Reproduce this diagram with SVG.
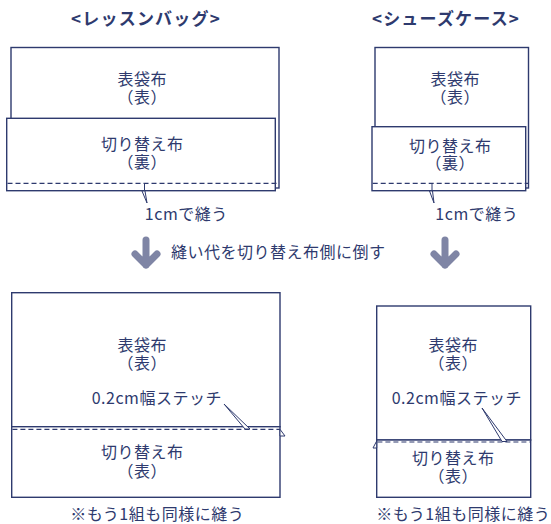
<svg xmlns="http://www.w3.org/2000/svg" width="551" height="524" viewBox="0 0 551 524">
<style>
.bg{fill:#ffffff}
.r{fill:#ffffff;stroke:#2e3a6e;stroke-width:1.4}
.d{fill:none;stroke:#2e3a6e;stroke-width:1.2;stroke-dasharray:5 3}
.t{font-family:"Noto Sans CJK JP","Noto Sans",sans-serif;font-size:16px;letter-spacing:0.5px;fill:#2e3a6e;text-anchor:middle}
.h{font-family:"Noto Sans CJK JP","Noto Sans",sans-serif;font-size:17px;font-weight:bold;fill:#2e3a6e;text-anchor:middle;letter-spacing:1.2px}
.tail{fill:#ffffff;stroke:#2e3a6e;stroke-width:1}
.arr{fill:none;stroke:#7f85a5;stroke-width:7;stroke-linecap:round;stroke-linejoin:round}
</style>
<rect class="bg" x="0" y="0" width="551" height="524"/>

<g id="title-lesson"><text class="h" x="146" y="25">&lt;レッスンバッグ&gt;</text></g>
<g id="title-shoes"><text class="h" x="446" y="25">&lt;シューズケース&gt;</text></g>

<g id="lb-top-outer">
<rect class="r" x="11" y="47.5" width="268" height="140.5"/>
<text class="t" y="85"><tspan x="142.3">表袋布</tspan><tspan x="142.3" dy="18">（表）</tspan></text>
</g>
<g id="lb-top-lining">
<rect class="r" x="6.7" y="118.3" width="268.6" height="72.4"/>
<text class="t" y="150"><tspan x="142.3">切り替え布</tspan><tspan x="142.3" dy="18">（裏）</tspan></text>
</g>

<g id="sc-top-outer">
<rect class="r" x="375" y="47.5" width="153.5" height="140.5"/>
<text class="t" y="85"><tspan x="455.3">表袋布</tspan><tspan x="455.3" dy="18">（表）</tspan></text>
</g>
<g id="sc-top-lining">
<rect class="r" x="372" y="126.7" width="153.7" height="64"/>
<text class="t" y="151.5"><tspan x="450.3">切り替え布</tspan><tspan x="450.3" dy="17.5">（裏）</tspan></text>
</g>

<g id="lb-bottom-outer">
<rect class="r" x="11.7" y="292.7" width="268.3" height="134"/>
<text class="t" y="351"><tspan x="142.3">表袋布</tspan><tspan x="142.3" dy="18">（表）</tspan></text>
</g>
<g id="lb-bottom-lining">
<rect class="r" x="11.7" y="426.7" width="268.3" height="70.6"/>
<text class="t" y="458"><tspan x="142.3">切り替え布</tspan><tspan x="142.3" dy="19">（表）</tspan></text>
</g>

<g id="sc-bottom-outer">
<rect class="r" x="376.7" y="306" width="154" height="134"/>
<text class="t" y="351"><tspan x="453.3">表袋布</tspan><tspan x="453.3" dy="18">（表）</tspan></text>
</g>
<g id="sc-bottom-lining">
<rect class="r" x="376.7" y="440" width="154" height="57.3"/>
<text class="t" y="464"><tspan x="453.3">切り替え布</tspan><tspan x="453.3" dy="18">（表）</tspan></text>
</g>

<g id="connectors">
<line class="d" x1="7.5" y1="183.3" x2="279" y2="183.3"/>
<line class="d" x1="372.7" y1="183.3" x2="528.5" y2="183.3"/>
<line class="d" x1="12.4" y1="429.3" x2="280" y2="429.3"/>
<line class="d" x1="377.4" y1="442" x2="530.7" y2="442"/>
<polygon class="tail" points="280,429.3 285,436 280,436"/>
<polygon class="tail" points="376.7,441 373,448 376.7,448"/>
<line x1="144.5" y1="184" x2="144.5" y2="190.5" stroke="#2e3a6e" stroke-width="1"/>
<polygon class="tail" points="142,191 145,191 147,203"/>
<line x1="432" y1="184" x2="432" y2="190.5" stroke="#2e3a6e" stroke-width="1"/>
<polygon class="tail" points="429.5,191 432.5,191 434,203"/>
<polygon class="tail" points="224,404 250,429 245,429"/>
<polygon class="tail" points="482,408 507,441.5 502,441.5"/>
<path class="arr" d="M146,240 V265 M135,254 L146,265 L157,254"/>
<path class="arr" d="M445,240 V265 M434,254 L445,265 L456,254"/>
</g>

<g id="labels">
<text class="t" x="186.3" y="220">1cmで縫う</text>
<text class="t" x="476.8" y="220">1cmで縫う</text>
<text class="t" x="278.3" y="258">縫い代を切り替え布側に倒す</text>
<text class="t" x="156.8" y="404">0.2cm幅ステッチ</text>
<text class="t" x="456.8" y="404">0.2cm幅ステッチ</text>
<text class="t" x="157.3" y="520">※もう1組も同様に縫う</text>
<text class="t" x="463.3" y="520">※もう1組も同様に縫う</text>
</g>
</svg>
